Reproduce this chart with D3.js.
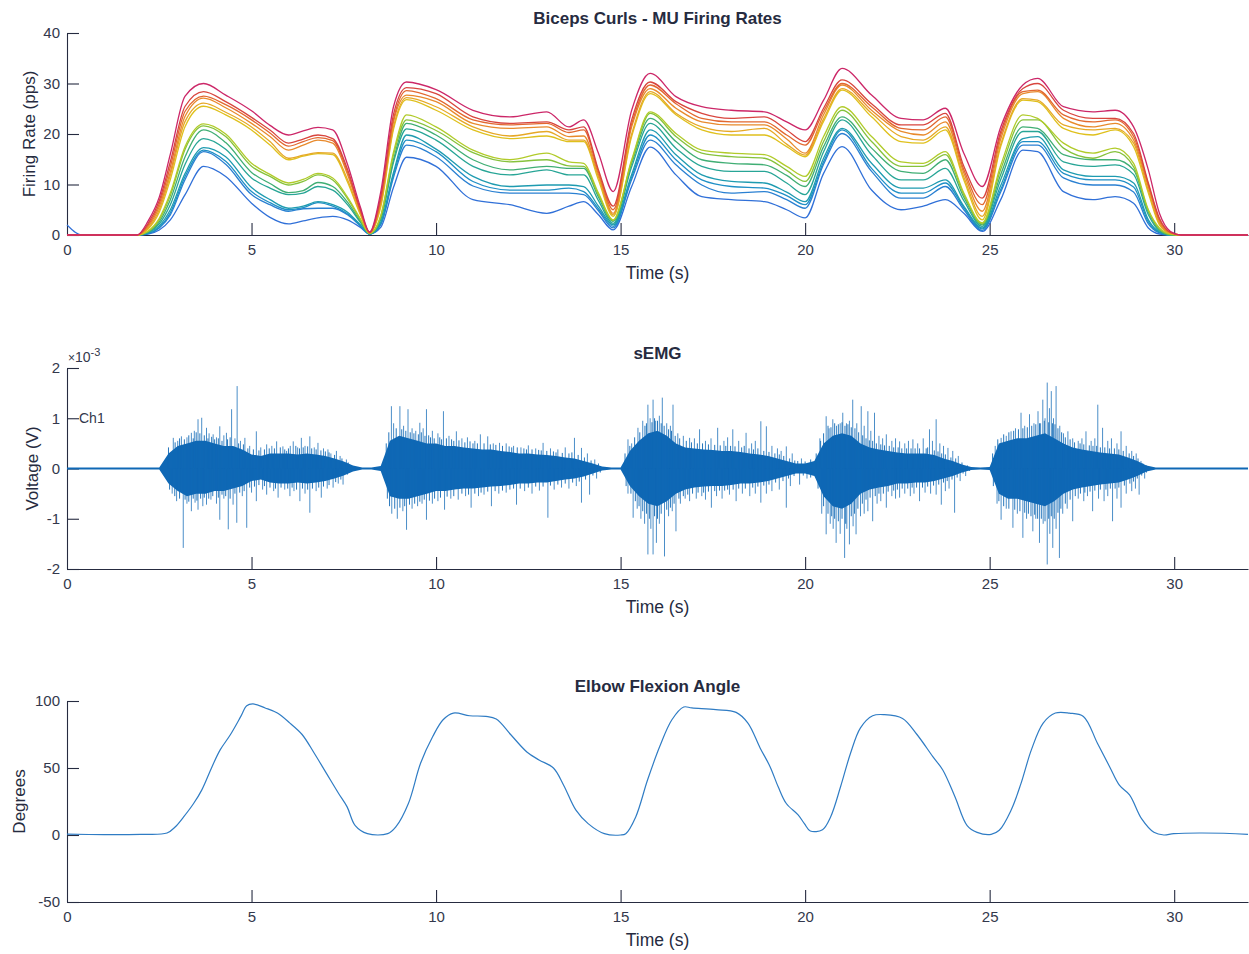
<!DOCTYPE html>
<html>
<head>
<meta charset="utf-8">
<script src="https://cdn.jsdelivr.net/npm/d3@7"></script>
<style>
  body { margin: 0; background: #fff; }
  svg text { font-family: "Liberation Sans", Arial, Helvetica, sans-serif; }
</style>
</head>
<body>
<svg id="fig" width="1249" height="954"></svg>
<script>
// ---------- Motor-unit firing rates (pps), sampled at frTime ----------
const frTime = [0, 0.4, 1.9, 2.2, 2.5, 2.8, 3.2, 3.7, 4.3, 5.0, 5.5, 6.0, 6.4, 6.8, 7.2, 7.6, 7.95, 8.2, 8.5, 8.85,
  9.2, 10.0, 11.0, 12.0, 13.0, 13.6, 14.0, 14.4, 14.8, 15.3, 15.8, 16.5, 17.2, 18.0, 18.9, 19.5, 20.0, 20.5, 21.0, 21.8,
  22.6, 23.2, 23.8, 24.3, 24.8, 25.3, 25.9, 26.3, 27.0, 27.8, 28.4, 28.9, 29.3, 29.6, 29.9, 30.2, 32];

const mu01 = [2.0,0,0,0.2,1.0,3.0,8.0,13.6,11.6,6.3,3.5,2.2,2.8,3.4,3.7,3.0,1.5,0.2,1.5,9.5,15.4,13.6,7.0,6.0,4.3,5.7,6.6,4.0,1.0,9.6,17.4,11.9,7.6,7.0,6.6,5.0,3.4,12.2,17.5,8.9,5.0,5.7,7.0,4.3,0.7,7.0,16.8,16.5,8.6,7.0,7.6,6.3,1.4,0.2,0,0,0];
const mu02 = [0,0,0,0.3,1.4,4.0,11.0,16.5,14.0,8.0,6.0,4.7,5.2,5.3,5.3,4.0,1.8,0.2,2.0,11.5,17.8,15.5,9.7,8.3,8.3,8.3,8.0,4.8,1.4,11.0,18.8,13.9,9.9,8.3,8.6,7.0,5.3,14.0,20.1,12.6,7.3,7.3,9.6,5.0,0.9,8.5,17.8,17.8,11.3,9.9,9.9,8.5,2.2,0.4,0,0,0];
const mu03 = [0,0,0,0.3,1.5,4.4,11.6,16.8,14.6,8.6,6.4,5.0,5.4,6.4,5.7,4.2,1.9,0.2,2.2,12.0,18.8,16.5,10.6,8.9,8.9,9.3,8.6,5.2,1.7,11.5,19.8,14.9,10.9,9.6,9.3,7.8,6.0,14.5,20.8,13.2,8.3,8.3,10.3,5.4,1.2,9.0,18.5,18.5,12.2,10.9,10.9,9.5,2.6,0.5,0,0,0];
const mu04 = [0,0,0,0.4,1.8,5.0,12.2,17.3,15.5,9.4,7.0,5.3,5.7,6.6,6.0,4.5,2.0,0.2,2.5,12.5,19.8,17.0,11.6,9.6,9.9,9.9,9.6,5.7,2.0,12.0,20.8,15.9,11.9,10.6,10.3,8.5,6.6,15.2,21.1,14.2,9.3,9.3,10.9,5.7,1.4,9.8,19.1,19.5,12.9,11.6,11.6,10.3,3.0,0.6,0,0,0];
const mu05 = [0,0,0,0.5,2.2,6.0,14.0,19.1,17.0,11.3,9.3,8.0,8.3,9.6,8.9,6.0,2.5,0.2,3.0,14.5,21.0,18.8,13.6,11.9,12.9,11.9,11.9,6.8,2.3,13.5,22.1,17.2,13.6,12.6,12.6,10.3,8.0,16.5,22.8,15.9,10.9,10.9,13.2,6.8,1.7,11.0,20.5,20.5,14.5,13.6,13.9,12.0,4.0,0.8,0,0,0];
const mu06 = [0,0,0,0.6,2.6,7.0,15.5,20.8,18.3,12.4,10.2,8.4,8.8,10.4,9.6,6.5,2.7,0.3,3.3,15.0,22.1,19.8,14.9,12.9,13.6,13.2,13.2,7.5,2.7,14.2,23.1,18.5,14.9,14.2,13.9,11.8,9.6,17.5,23.4,17.2,12.6,12.2,14.9,7.5,2.0,12.0,21.4,21.1,15.9,14.9,14.9,12.9,4.5,1.0,0.1,0,0];
const mu07 = [0,0,0,0.7,3.0,7.8,17.0,21.6,19.5,13.6,11.6,9.9,10.6,11.9,10.9,7.2,3.0,0.3,3.6,16.0,22.8,20.7,16.3,14.5,14.9,13.7,13.6,8.0,2.9,14.6,24.1,19.5,16.2,15.5,15.2,12.8,10.6,18.5,24.7,18.5,13.6,13.6,15.9,8.0,2.2,13.0,22.8,22.8,17.2,15.2,16.5,13.5,4.8,1.2,0.1,0,0];
const mu08 = [0,0,0,0.8,3.3,8.3,17.5,22.0,20.0,14.2,12.0,10.3,11.0,12.2,11.3,7.5,3.2,0.3,3.8,16.5,23.8,21.4,16.8,14.9,16.2,14.5,14.2,8.3,3.0,14.9,24.4,20.1,16.8,16.2,15.9,13.6,11.6,19.5,25.4,19.5,14.5,14.2,16.5,8.3,2.4,13.8,23.8,23.1,18.2,16.2,17.2,14.2,5.0,1.4,0.2,0,0];
const mu09 = [0,0,0,1.2,4.5,11.0,21.5,25.5,23.8,20.8,17.8,14.9,15.6,16.1,15.9,10.5,4.0,0.4,5.5,21.0,26.8,24.7,20.8,19.1,19.6,18.5,18.5,10.9,3.7,19.5,28.0,23.8,20.8,19.8,19.8,17.5,15.5,22.5,28.7,23.4,18.5,18.2,20.8,10.9,3.0,17.5,26.7,26.4,21.1,19.8,20.8,17.5,8.3,2.0,0.3,0,0];
const mu10 = [0,0,0,1.4,5.0,11.8,22.5,26.1,24.3,21.4,18.5,15.2,15.8,16.3,16.2,11.0,4.2,0.4,6.0,21.5,27.2,25.4,21.4,19.6,20.5,18.8,18.8,11.5,4.0,20.0,28.4,24.1,21.4,20.5,21.1,18.0,15.8,23.0,29.0,24.1,19.5,18.8,21.4,11.5,3.7,18.0,27.0,26.7,21.8,20.8,21.1,18.2,8.8,2.2,0.3,0,0];
const mu11 = [0,0,0,1.7,5.6,12.5,23.5,27.1,25.2,22.1,19.5,16.8,17.8,18.8,18.2,12.0,4.6,0.4,6.5,22.5,27.7,26.4,22.1,21.1,21.4,19.5,19.6,12.0,4.3,21.4,29.0,25.1,22.4,21.8,21.8,19.0,16.2,23.8,29.7,24.7,20.5,19.8,22.4,12.3,4.7,19.0,28.0,28.4,23.1,21.4,22.1,18.8,9.5,2.6,0.4,0,0];
const mu12 = [0,0,0,2.0,6.2,13.5,24.5,27.5,25.8,22.8,20.2,17.6,18.5,19.3,18.7,12.5,4.8,0.5,7.0,23.0,28.6,27.0,22.8,21.8,22.1,20.3,20.8,12.5,5.0,22.0,29.7,26.0,23.1,22.4,22.4,19.8,17.8,24.5,30.0,25.4,21.1,20.8,23.4,12.9,6.0,19.8,28.4,28.7,23.8,22.4,22.8,19.5,10.0,3.0,0.5,0,0];
const mu13 = [0,0,0,2.3,6.8,14.5,25.5,28.4,26.4,23.3,20.8,18.2,19.0,19.8,19.1,13.0,5.0,0.5,7.6,24.0,29.2,28.0,23.4,22.1,22.4,20.8,21.4,12.9,5.7,22.8,30.3,26.4,24.1,23.1,23.4,20.8,18.5,25.1,30.7,26.0,21.8,21.8,24.1,13.6,7.3,20.5,29.0,30.0,24.7,23.1,23.1,20.1,10.3,3.3,0.5,0,0];
const mu14 = [0,0,0,2.8,7.5,16.0,27.5,30.0,27.7,24.6,21.7,19.8,20.6,21.3,20.8,14.0,5.5,0.6,8.5,25.5,30.3,28.8,24.7,23.4,24.4,21.4,22.8,16.2,8.6,24.7,32.0,27.4,25.4,24.7,24.4,22.4,20.8,26.7,33.0,27.7,23.1,22.8,25.1,16.2,9.6,21.4,29.7,31.0,25.4,24.4,24.7,21.4,12.9,4.3,0.7,0,0];

const motorUnits = [mu01, mu02, mu03, mu04, mu05, mu06, mu07, mu08, mu09, mu10, mu11, mu12, mu13, mu14];
const muColors = ['#3070d8', '#2a80d2', '#1f8fc6', '#1e9bb0', '#27a596', '#40ae74', '#86c23c', '#b1cb2a',
  '#dfc01c', '#e6a826', '#e88a2c', '#e2682f', '#d8453e', '#cc2768'];

// ---------- Surface EMG (x1e-3 V) ----------
const emgStep = 0.25; // seconds between envelope samples
const emgHi = [
  0.02,0.02,0.02,0.02,0.02,0.02,0.02,0.02,0.02,0.02,
  0.02,0.30,0.45,0.50,0.55,0.55,0.50,0.45,0.45,0.38,
  0.28,0.25,0.30,0.30,0.30,0.28,0.30,0.28,0.25,0.20,
  0.14,0.06,0.02,0.02,0.05,0.55,0.65,0.60,0.55,0.50,
  0.50,0.45,0.45,0.42,0.40,0.38,0.38,0.35,0.33,0.30,
  0.30,0.28,0.27,0.25,0.22,0.20,0.15,0.10,0.04,0.02,
  0.02,0.35,0.55,0.70,0.75,0.65,0.50,0.42,0.40,0.38,
  0.37,0.35,0.35,0.33,0.30,0.28,0.25,0.20,0.15,0.10,
  0.10,0.15,0.50,0.65,0.70,0.65,0.50,0.42,0.38,0.35,
  0.32,0.30,0.30,0.30,0.27,0.20,0.15,0.08,0.03,0.02,
  0.03,0.50,0.55,0.60,0.60,0.65,0.70,0.60,0.50,0.42,
  0.38,0.35,0.32,0.30,0.28,0.22,0.15,0.06,0.02,0.02,
  0.02,0.02,0.02,0.02,0.02,0.02,0.02,0.02,0.02];
const emgLo = [
  -0.02,-0.02,-0.02,-0.02,-0.02,-0.02,-0.02,-0.02,-0.02,-0.02,
  -0.02,-0.30,-0.45,-0.55,-0.50,-0.50,-0.45,-0.45,-0.40,-0.35,
  -0.25,-0.22,-0.28,-0.30,-0.30,-0.28,-0.30,-0.28,-0.25,-0.20,
  -0.14,-0.06,-0.02,-0.02,-0.05,-0.55,-0.60,-0.60,-0.55,-0.50,
  -0.45,-0.45,-0.42,-0.40,-0.40,-0.38,-0.36,-0.35,-0.33,-0.30,
  -0.30,-0.28,-0.28,-0.25,-0.22,-0.20,-0.16,-0.10,-0.04,-0.02,
  -0.02,-0.35,-0.55,-0.70,-0.75,-0.65,-0.50,-0.42,-0.38,-0.36,
  -0.35,-0.35,-0.33,-0.30,-0.30,-0.28,-0.25,-0.20,-0.15,-0.10,
  -0.10,-0.15,-0.55,-0.75,-0.80,-0.70,-0.50,-0.42,-0.38,-0.35,
  -0.30,-0.30,-0.28,-0.28,-0.25,-0.20,-0.15,-0.08,-0.03,-0.02,
  -0.03,-0.50,-0.60,-0.60,-0.65,-0.70,-0.75,-0.65,-0.50,-0.42,
  -0.38,-0.35,-0.32,-0.30,-0.28,-0.22,-0.15,-0.06,-0.02,-0.02,
  -0.02,-0.02,-0.02,-0.02,-0.02,-0.02,-0.02,-0.02,-0.02];

// large individual spikes: [time (s), peak (x1e-3 V)]
const emgSpikes = [
  [2.88,0.61],[3.1,0.64],[3.37,0.71],[3.55,0.98],[3.65,1.01],[3.78,0.81],[3.96,0.68],[4.14,0.84],[4.32,0.71],[4.46,1.18],
  [4.61,1.64],[4.82,0.61],[5.13,0.74],[5.41,0.48],[5.68,0.54],[5.95,0.35],[6.13,0.54],[6.35,0.61],[6.58,0.64],[6.8,0.51],
  [7.07,0.38],[7.3,0.35],[7.57,0.18],[3.0,0.55],[3.25,0.62],[3.45,0.75],[3.85,0.7],[4.05,0.62],[4.25,0.66],[4.55,0.6],
  [4.7,0.55],[4.95,0.45],[5.25,0.42],[5.55,0.45],[5.85,0.44],[6.05,0.45],[6.25,0.42],[6.45,0.45],[6.7,0.42],[6.95,0.4],
  [7.15,0.3],[7.4,0.25],
  [2.97,-0.65],[3.15,-1.58],[3.37,-0.85],[3.55,-0.82],[3.78,-0.72],[4.14,-1.02],[4.37,-1.21],[4.6,-1.08],[4.87,-1.18],
  [5.13,-0.65],[5.41,-0.52],[5.72,-0.58],[6.04,-0.55],[6.31,-0.65],[6.58,-0.88],[6.89,-0.58],[7.21,-0.38],[7.48,-0.32],
  [2.85,-0.5],[3.25,-0.7],[3.47,-0.68],[3.68,-0.75],[3.9,-0.62],[4.05,-0.7],[4.25,-0.6],[4.5,-0.72],[4.75,-0.55],
  [5.0,-0.48],[5.3,-0.42],[5.6,-0.45],[5.9,-0.42],[6.15,-0.45],[6.45,-0.5],[6.75,-0.45],[7.05,-0.4],[7.35,-0.3],
  [8.79,1.24],[8.85,0.9],[9.02,1.24],[9.12,0.85],[9.24,1.18],[9.35,0.8],[9.45,0.75],[9.56,0.91],[9.65,0.8],[9.74,1.18],
  [9.9,0.75],[10.05,0.7],[10.2,1.14],[10.35,0.65],[10.55,0.74],[10.7,0.6],[10.85,0.62],[11.05,0.55],[11.2,0.68],[11.4,0.64],
  [11.55,0.5],[11.72,0.51],[11.9,0.5],[12.1,0.45],[12.3,0.42],[12.5,0.46],[12.7,0.4],[12.9,0.51],[13.1,0.4],[13.3,0.38],
  [13.5,0.42],[13.75,0.61],[13.94,0.41],[14.1,0.3],[14.3,0.18],
  [8.8,-0.9],[8.95,-1.0],[9.1,-0.85],[9.2,-1.22],[9.35,-0.8],[9.5,-0.75],[9.62,-0.7],[9.74,-1.02],[9.9,-0.7],[10.05,-0.65],
  [10.23,-0.82],[10.4,-0.6],[10.6,-0.62],[10.8,-0.55],[10.95,-0.78],[11.15,-0.55],[11.3,-0.52],[11.5,-0.75],[11.7,-0.5],
  [11.9,-0.48],[12.18,-0.72],[12.4,-0.45],[12.6,-0.5],[12.8,-0.44],[13.03,-0.98],[13.2,-0.42],[13.4,-0.38],[13.6,-0.4],
  [13.8,-0.35],[13.94,-0.68],[14.16,-0.52],[14.35,-0.2],
  [15.2,0.58],[15.3,0.5],[15.47,0.81],[15.6,0.95],[15.74,1.27],[15.8,1.0],[15.88,1.37],[15.95,0.95],[16.05,1.05],[16.13,1.41],
  [16.25,0.9],[16.35,0.85],[16.42,1.27],[16.55,0.7],[16.7,0.65],[16.87,0.61],[17.0,0.6],[17.14,0.78],[17.3,0.55],[17.45,0.6],
  [17.63,0.81],[17.8,0.55],[17.9,0.62],[18.04,0.78],[18.2,0.55],[18.4,0.71],[18.55,0.5],[18.65,0.55],[18.8,0.94],[18.95,0.84],
  [19.1,0.45],[19.25,0.4],[19.35,0.35],[19.49,0.44],[19.65,0.3],[19.9,0.2],
  [15.2,-0.5],[15.34,-0.98],[15.45,-0.8],[15.55,-1.0],[15.65,-1.1],[15.74,-1.71],[15.82,-1.2],[15.88,-1.71],[15.97,-1.48],
  [16.05,-1.1],[16.19,-1.75],[16.3,-0.95],[16.4,-0.85],[16.5,-1.25],[16.62,-0.7],[16.75,-0.6],[16.87,-0.65],[17.05,-0.6],
  [17.2,-0.55],[17.3,-0.62],[17.46,-0.78],[17.6,-0.55],[17.75,-0.6],[17.95,-0.52],[18.13,-0.65],[18.3,-0.5],[18.5,-0.55],
  [18.65,-0.5],[18.8,-0.68],[18.95,-0.5],[19.1,-0.45],[19.3,-0.42],[19.49,-0.78],[19.6,-0.35],[19.85,-0.32],[20.05,-0.2],
  [20.4,0.6],[20.57,1.04],[20.65,0.8],[20.75,0.98],[20.85,0.85],[20.95,0.9],[21.02,1.11],[21.12,0.9],[21.2,0.95],[21.29,1.37],
  [21.4,0.9],[21.52,1.24],[21.6,0.85],[21.7,1.14],[21.78,0.75],[21.88,1.11],[22.0,0.65],[22.1,0.6],[22.2,0.68],[22.35,0.55],
  [22.45,0.6],[22.56,0.54],[22.7,0.5],[22.8,0.55],[22.92,0.58],[23.05,0.5],[23.2,0.6],[23.37,0.78],[23.45,0.55],[23.55,0.98],
  [23.65,0.5],[23.75,0.45],[23.87,0.41],[24.0,0.35],[24.15,0.25],
  [20.45,-0.9],[20.57,-1.31],[20.68,-1.1],[20.76,-1.2],[20.84,-1.48],[20.95,-1.3],[21.07,-1.78],[21.13,-1.2],[21.2,-1.51],
  [21.3,-1.15],[21.38,-1.31],[21.5,-0.95],[21.6,-0.9],[21.7,-0.85],[21.83,-1.05],[21.95,-0.7],[22.05,-0.65],[22.2,-0.78],
  [22.35,-0.55],[22.45,-0.6],[22.56,-0.58],[22.7,-0.5],[22.85,-0.55],[22.95,-0.5],[23.1,-0.65],[23.25,-0.48],[23.4,-0.5],
  [23.55,-0.52],[23.69,-0.72],[23.8,-0.45],[23.9,-0.4],[24.05,-0.88],[24.2,-0.25],[24.35,-0.15],
  [25.15,0.45],[25.31,0.61],[25.45,0.65],[25.58,0.74],[25.7,0.8],[25.85,1.11],[25.95,0.85],[26.08,1.08],[26.2,0.9],[26.31,1.14],
  [26.38,0.9],[26.44,1.37],[26.5,1.0],[26.56,1.71],[26.62,1.2],[26.67,1.54],[26.73,1.0],[26.8,1.64],[26.9,0.85],[27.0,0.7],
  [27.12,0.74],[27.25,0.6],[27.4,0.55],[27.5,0.6],[27.61,0.74],[27.75,0.55],[27.85,0.6],[27.93,1.27],[28.06,0.81],[28.2,0.55],
  [28.3,0.6],[28.45,0.5],[28.56,0.74],[28.7,0.45],[28.85,0.35],[28.97,0.3],[29.1,0.15],
  [25.2,-0.7],[25.31,-1.02],[25.45,-0.8],[25.63,-1.18],[25.75,-0.9],[25.9,-1.38],[26.0,-1.0],[26.17,-1.25],[26.25,-1.0],
  [26.35,-1.48],[26.45,-1.1],[26.56,-1.91],[26.63,-1.3],[26.71,-1.58],[26.8,-1.2],[26.89,-1.78],[26.98,-0.9],[27.1,-0.8],
  [27.25,-1.05],[27.4,-0.6],[27.55,-0.65],[27.65,-0.55],[27.79,-0.85],[27.95,-0.6],[28.1,-0.65],[28.2,-0.55],[28.33,-1.05],
  [28.45,-0.6],[28.56,-0.78],[28.7,-0.5],[28.85,-0.45],[28.95,-0.4],[29.05,-0.52],[29.2,-0.2]
];

// smaller spikes that roughen the edge of the dense core: [time (s), peak (x1e-3 V)]
const emgSpikesMinor = [
  [2.75,0.42],[2.93,0.52],[3.05,0.6],[3.18,0.58],[3.3,0.66],[3.42,0.6],[3.5,0.72],[3.6,0.7],[3.72,0.66],[3.82,0.6],
  [3.92,0.63],[4.0,0.58],[4.1,0.6],[4.2,0.55],[4.35,0.58],[4.42,0.62],[4.65,0.5],[4.78,0.48],[4.9,0.4],[5.05,0.38],
  [5.2,0.36],[5.35,0.38],[5.48,0.4],[5.62,0.4],[5.78,0.42],[5.9,0.38],[6.0,0.4],[6.2,0.45],[6.3,0.4],[6.4,0.42],
  [6.52,0.44],[6.63,0.4],[6.75,0.38],[6.88,0.36],[7.0,0.34],[7.1,0.32],[7.25,0.27],[7.45,0.2],[7.62,0.12],
  [2.78,-0.42],[2.92,-0.55],[3.05,-0.6],[3.2,-0.62],[3.3,-0.66],[3.42,-0.6],[3.52,-0.64],[3.62,-0.6],[3.72,-0.58],[3.84,-0.6],
  [3.95,-0.55],[4.1,-0.58],[4.2,-0.52],[4.3,-0.55],[4.42,-0.6],[4.55,-0.5],[4.68,-0.48],[4.8,-0.45],[4.95,-0.38],[5.08,-0.36],
  [5.2,-0.33],[5.35,-0.35],[5.5,-0.38],[5.65,-0.4],[5.8,-0.38],[5.98,-0.4],[6.1,-0.38],[6.22,-0.42],[6.38,-0.4],[6.52,-0.42],
  [6.65,-0.4],[6.82,-0.38],[6.95,-0.36],[7.1,-0.33],[7.28,-0.27],[7.42,-0.22],[7.6,-0.12],
  [8.65,0.5],[8.72,0.72],[8.92,0.8],[9.07,0.78],[9.18,0.75],[9.3,0.72],[9.4,0.7],[9.52,0.68],[9.6,0.72],[9.7,0.65],
  [9.8,0.66],[9.85,0.62],[9.95,0.6],[10.1,0.62],[10.15,0.58],[10.28,0.6],[10.42,0.58],[10.48,0.55],[10.62,0.56],[10.78,0.52],
  [10.92,0.54],[11.0,0.5],[11.12,0.5],[11.3,0.5],[11.47,0.48],[11.62,0.47],[11.8,0.45],[11.98,0.44],[12.05,0.42],[12.2,0.42],
  [12.38,0.4],[12.45,0.38],[12.6,0.38],[12.78,0.37],[12.85,0.36],[13.0,0.35],[13.18,0.34],[13.25,0.32],[13.42,0.31],[13.6,0.3],
  [13.68,0.32],[13.85,0.27],[14.02,0.22],[14.2,0.16],[14.4,0.1],
  [8.68,-0.6],[8.74,-0.75],[8.88,-0.8],[9.02,-0.78],[9.15,-0.75],[9.28,-0.72],[9.42,-0.7],[9.56,-0.66],[9.68,-0.62],[9.82,-0.64],
  [9.96,-0.6],[10.12,-0.58],[10.3,-0.56],[10.48,-0.55],[10.7,-0.5],[10.88,-0.52],[11.05,-0.5],[11.22,-0.48],[11.4,-0.46],[11.6,-0.45],
  [11.8,-0.44],[12.0,-0.42],[12.1,-0.4],[12.28,-0.4],[12.5,-0.38],[12.7,-0.36],[12.9,-0.36],[13.1,-0.34],[13.3,-0.32],[13.5,-0.3],
  [13.7,-0.28],[13.88,-0.26],[14.05,-0.22],[14.25,-0.14],[14.45,-0.08],
  [15.12,0.3],[15.25,0.45],[15.38,0.62],[15.52,0.72],[15.66,0.85],[15.7,0.9],[15.85,0.92],[15.92,1.0],[16.0,0.95],[16.1,0.9],
  [16.18,0.85],[16.3,0.78],[16.38,0.75],[16.48,0.65],[16.6,0.6],[16.78,0.55],[16.92,0.52],[17.08,0.5],[17.22,0.5],[17.38,0.48],
  [17.55,0.47],[17.7,0.46],[17.85,0.45],[17.98,0.45],[18.1,0.44],[18.28,0.42],[18.35,0.45],[18.48,0.4],[18.6,0.38],[18.72,0.4],
  [18.88,0.35],[19.02,0.33],[19.18,0.3],[19.3,0.28],[19.42,0.25],[19.58,0.2],[19.72,0.16],[19.8,0.15],[20.0,0.14],[20.15,0.18],
  [15.15,-0.35],[15.28,-0.5],[15.4,-0.65],[15.5,-0.75],[15.6,-0.85],[15.7,-0.9],[15.78,-1.0],[15.92,-0.95],[16.0,-1.0],[16.1,-0.9],
  [16.25,-0.82],[16.35,-0.78],[16.45,-0.7],[16.58,-0.6],[16.7,-0.55],[16.82,-0.52],[16.95,-0.5],[17.1,-0.48],[17.25,-0.48],[17.38,-0.46],
  [17.55,-0.45],[17.68,-0.44],[17.82,-0.44],[17.9,-0.42],[18.05,-0.42],[18.2,-0.4],[18.38,-0.4],[18.58,-0.38],[18.72,-0.36],[18.88,-0.34],
  [19.02,-0.32],[19.2,-0.28],[19.4,-0.25],[19.55,-0.2],[19.7,-0.15],[19.95,-0.14],[20.15,-0.18],
  [20.3,0.3],[20.42,0.55],[20.5,0.7],[20.62,0.85],[20.7,0.82],[20.8,0.9],[20.9,0.88],[21.0,0.92],[21.08,0.85],[21.16,0.88],
  [21.25,0.82],[21.35,0.8],[21.45,0.72],[21.56,0.66],[21.65,0.6],[21.74,0.56],[21.83,0.55],[21.93,0.5],[22.05,0.48],[22.15,0.46],
  [22.28,0.45],[22.4,0.42],[22.52,0.42],[22.62,0.4],[22.75,0.4],[22.87,0.4],[22.98,0.4],[23.1,0.4],[23.28,0.4],[23.32,0.42],
  [23.5,0.36],[23.6,0.34],[23.7,0.3],[23.8,0.28],[23.95,0.22],[24.08,0.2],[24.25,0.12],[24.4,0.06],
  [20.35,-0.4],[20.5,-0.75],[20.62,-0.9],[20.72,-0.95],[20.8,-1.0],[20.9,-1.05],[21.0,-1.0],[21.1,-1.1],[21.25,-0.95],[21.34,-0.9],
  [21.43,-0.8],[21.55,-0.7],[21.65,-0.62],[21.76,-0.58],[21.9,-0.55],[22.0,-0.5],[22.12,-0.5],[22.25,-0.46],[22.4,-0.44],[22.5,-0.42],
  [22.63,-0.4],[22.78,-0.4],[22.9,-0.38],[23.02,-0.38],[23.18,-0.38],[23.32,-0.36],[23.48,-0.34],[23.62,-0.32],[23.75,-0.28],[23.85,-0.25],
  [23.98,-0.22],[24.12,-0.18],[24.28,-0.1],[24.45,-0.05],
  [25.08,0.3],[25.22,0.58],[25.38,0.68],[25.52,0.72],[25.65,0.75],[25.78,0.78],[25.9,0.8],[26.02,0.82],[26.14,0.85],[26.25,0.88],
  [26.35,0.9],[26.48,0.95],[26.6,0.92],[26.7,0.9],[26.77,0.88],[26.85,0.8],[26.95,0.72],[27.05,0.62],[27.18,0.58],[27.3,0.52],
  [27.45,0.5],[27.55,0.48],[27.7,0.46],[27.8,0.45],[27.9,0.45],[28.0,0.42],[28.12,0.42],[28.25,0.4],[28.38,0.4],[28.5,0.38],
  [28.62,0.35],[28.78,0.3],[28.9,0.25],[29.02,0.2],[29.15,0.1],[29.25,0.06],
  [25.1,-0.35],[25.25,-0.65],[25.38,-0.75],[25.52,-0.8],[25.68,-0.82],[25.82,-0.85],[25.95,-0.88],[26.05,-0.9],[26.12,-0.95],[26.22,-0.92],
  [26.3,-1.0],[26.4,-1.0],[26.5,-1.05],[26.6,-1.0],[26.67,-0.95],[26.75,-1.0],[26.85,-0.88],[26.93,-0.8],[27.05,-0.7],[27.18,-0.62],
  [27.32,-0.55],[27.46,-0.5],[27.58,-0.48],[27.72,-0.46],[27.85,-0.44],[28.0,-0.42],[28.15,-0.42],[28.27,-0.4],[28.4,-0.4],[28.5,-0.38],
  [28.65,-0.34],[28.8,-0.3],[28.9,-0.26],[29.0,-0.2],[29.12,-0.14],[29.25,-0.08]
];

// ---------- Elbow flexion angle (degrees) ----------
const angleTime = [0, 1, 2, 2.71, 2.93, 3.16, 3.43, 3.65, 3.93, 4.15, 4.43, 4.71, 4.87, 5.04, 5.37, 5.7, 6.04, 6.37, 6.7, 7.03,
  7.36, 7.59, 7.81, 8.14, 8.69, 8.91, 9.25, 9.58, 9.91, 10.19, 10.47, 10.91, 11.35, 11.63, 12.02, 12.46, 12.79, 13.18, 13.46, 13.79,
  14.12, 14.56, 15.0, 15.14, 15.41, 15.73, 16.06, 16.39, 16.71, 16.93, 17.58, 18.13, 18.45, 18.78, 19.05, 19.27, 19.49, 19.81, 19.98, 20.14,
  20.47, 20.69, 20.96, 21.23, 21.5, 21.83, 22.15, 22.64, 23.03, 23.46, 23.73, 24.06, 24.39, 24.66, 25.04, 25.26, 25.58, 25.85, 26.13, 26.45,
  26.78, 27.16, 27.54, 27.92, 28.25, 28.52, 28.79, 29.12, 29.45, 29.72, 29.99, 30.75, 32];
const angleDeg = [0.6, 0.3, 0.5, 1.5, 6, 13.5, 23.5, 33.5, 51, 63.5, 75, 88.5, 96.5, 97.8, 94.8, 91, 83.5, 75, 61, 46,
  31, 21, 7, 1, 1, 6, 23.5, 53.5, 73.5, 86, 91, 89, 88.5, 86.5, 75, 62, 56, 50, 37, 18.5,
  8.5, 1, 0, 1, 13.5, 41, 66, 86, 95.5, 94.8, 93.5, 91.5, 83.5, 65, 51, 36, 23.5, 15, 8.5, 3,
  4, 13.5, 36, 61, 80, 89, 89.8, 87, 75, 58.5, 48.5, 28.5, 7, 2, 0.5, 3.5, 18.5, 38.5, 63.5, 83.5,
  91, 91, 88.5, 68.5, 51, 37, 30, 12, 2, 0, 1, 1.5, 0.5];

// ---------- Axis ticks ----------
const timeTicks = [0, 5, 10, 15, 20, 25, 30];
const rateTicks = [0, 10, 20, 30, 40];
const voltTicks = [-2, -1, 0, 1, 2];
const degTicks = [-50, 0, 50, 100];

// ---------- Drawing ----------
const svg = d3.select('#fig');
const ink = '#262b40';
const tickInk = '#33384c';
const lineBlue = '#0f68b5';
const plain = d => String(d);   // "-1" with an ASCII hyphen, no decimals
const x = d3.scaleLinear().domain([0, 32]).range([67, 1248]);

function panel(opts) {
  const y = d3.scaleLinear().domain(opts.domain).range([opts.bottom, opts.top]);
  const g = svg.append('g');

  const ax = g.append('g').attr('transform', `translate(0,${opts.bottom})`)
    .call(d3.axisBottom(x).tickValues(timeTicks).tickFormat(plain)
      .tickSizeInner(-12).tickSizeOuter(0).tickPadding(9));
  const ay = g.append('g').attr('transform', `translate(${x(0)},0)`)
    .call(d3.axisLeft(y).tickValues(opts.ticks).tickFormat(plain)
      .tickSizeInner(-12).tickSizeOuter(0).tickPadding(7));
  [ax, ay].forEach(a => {
    a.select('.domain').attr('stroke', ink).attr('stroke-width', 1.1);
    a.selectAll('.tick line').attr('stroke', ink).attr('stroke-width', 1.1);
    a.selectAll('.tick text').attr('fill', tickInk).style('font-size', '15px');
  });
  // the 0 time tick sits on the y axis
  ax.selectAll('.tick').filter(d => d === 0).select('line').remove();

  g.append('text').attr('x', (x(0) + x(32)) / 2).attr('y', opts.bottom + 44)
    .attr('text-anchor', 'middle').attr('fill', ink).style('font-size', '17.5px').text('Time (s)');
  g.append('text').attr('x', (x(0) + x(32)) / 2).attr('y', opts.top - 9)
    .attr('text-anchor', 'middle').attr('fill', ink).style('font-size', '17px').style('font-weight', 'bold')
    .text(opts.title);
  g.append('text')
    .attr('transform', `translate(${opts.ylabelX},${(opts.top + opts.bottom) / 2}) rotate(-90)`)
    .attr('text-anchor', 'middle').attr('fill', ink).style('font-size', '17px').text(opts.ylabel);
  return { g, y };
}

// Panel 1: firing rates
const p1 = panel({ top: 33, bottom: 235, domain: [0, 40], ticks: rateTicks,
  title: 'Biceps Curls - MU Firing Rates', ylabel: 'Firing Rate (pps)', ylabelX: 35 });
const rateLine = d3.line().x((d, i) => x(frTime[i])).y(d => p1.y(d)).curve(d3.curveMonotoneX);
p1.g.append('g').selectAll('path').data(motorUnits).join('path')
  .attr('d', rateLine).attr('fill', 'none')
  .attr('stroke', (d, i) => muColors[i]).attr('stroke-width', 1.3);

// Panel 2: sEMG
const p2 = panel({ top: 368, bottom: 569, domain: [-2, 2], ticks: voltTicks,
  title: 'sEMG', ylabel: 'Voltage (V)', ylabelX: 38 });
const emgArea = d3.area()
  .x((d, i) => x(i * emgStep))
  .y0((d, i) => p2.y(emgLo[i]))
  .y1(d => p2.y(d));
p2.g.append('path').datum(emgHi).attr('d', emgArea).attr('fill', lineBlue);
function drawSpikes(list, opacity) {
  p2.g.append('g').selectAll('line').data(list).join('line')
    .attr('x1', d => x(d[0])).attr('x2', d => x(d[0]))
    .attr('y1', p2.y(0)).attr('y2', d => p2.y(d[1]))
    .attr('stroke', lineBlue).attr('stroke-width', 1).attr('stroke-opacity', opacity);
}
drawSpikes(emgSpikesMinor, 0.9);
drawSpikes(emgSpikes, 0.75);
const mult = p2.g.append('text').attr('x', 68).attr('y', 362).attr('fill', tickInk).style('font-size', '14px');
mult.append('tspan').style('font-size', '12px').text('\u00d7');
mult.append('tspan').text('10');
mult.append('tspan').attr('dy', -6).style('font-size', '11px').text('-3');
p2.g.append('text').attr('x', 79).attr('y', p2.y(1) + 5).attr('fill', tickInk).style('font-size', '14px').text('Ch1');

// Panel 3: elbow angle
const p3 = panel({ top: 701, bottom: 902, domain: [-50, 100], ticks: degTicks,
  title: 'Elbow Flexion Angle', ylabel: 'Degrees', ylabelX: 25 });
const angleLine = d3.line().x((d, i) => x(angleTime[i])).y(d => p3.y(d)).curve(d3.curveCatmullRom);
p3.g.append('path').datum(angleDeg).attr('d', angleLine).attr('fill', 'none')
  .attr('stroke', '#2f7cc4').attr('stroke-width', 1.2);
</script>
</body>
</html>
